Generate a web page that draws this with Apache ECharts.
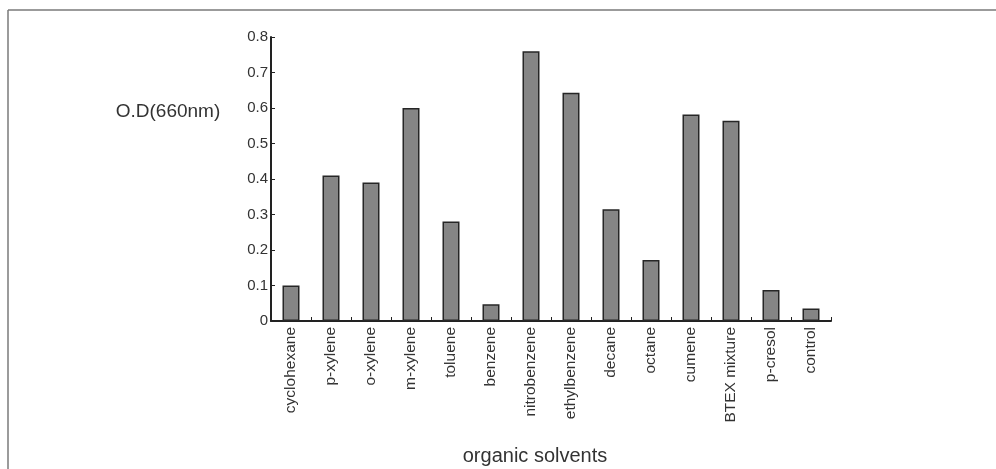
<!DOCTYPE html>
<html>
<head>
<meta charset="utf-8">
<script src="https://cdn.jsdelivr.net/npm/echarts@6/dist/echarts.min.js"></script>
<style>
  html, body { margin: 0; padding: 0; background: #fff; }
  #chart { width: 996px; height: 469px; }
</style>
</head>
<body>
<div id="chart"></div>
<script>
// organic solvents on the x axis
const solvents = ['cyclohexane', 'p-xylene', 'o-xylene', 'm-xylene', 'toluene', 'benzene',
  'nitrobenzene', 'ethylbenzene', 'decane', 'octane', 'cumene', 'BTEX mixture', 'p-cresol', 'control']
// O.D at 660nm
const odValues = [0.10, 0.41, 0.39, 0.60, 0.28, 0.047, 0.76, 0.643, 0.315, 0.172, 0.582, 0.564, 0.087, 0.035]

const chart = echarts.init(document.getElementById('chart'))
const font = 'Arial, "Liberation Sans", sans-serif'

chart.setOption({
  animation: false,
  backgroundColor: '#fff',
  // frame line top and left, plus the two axis titles
  graphic: [
    { type: 'line', shape: { x1: 8, y1: 10, x2: 996, y2: 10 }, style: { stroke: '#7a7a7a', lineWidth: 1.5 } },
    { type: 'line', shape: { x1: 8, y1: 10, x2: 8, y2: 469 }, style: { stroke: '#7a7a7a', lineWidth: 1.5 } },
    { type: 'text', style: { x: 168, y: 112, text: 'O.D(660nm)', font: '19px ' + font, fill: '#333', textAlign: 'center', textVerticalAlign: 'middle' } },
    { type: 'text', style: { x: 535, y: 456, text: 'organic solvents', font: '20px ' + font, fill: '#333', textAlign: 'center', textVerticalAlign: 'middle' } }
  ],
  grid: { left: 271, right: 165, top: 37, bottom: 148 },
  xAxis: {
    type: 'category',
    data: solvents,
    axisLine: { lineStyle: { color: '#222', width: 2 } },
    axisTick: { show: true, inside: true, length: 4, lineStyle: { color: '#222' } },
    axisLabel: { rotate: 90, color: '#333', fontSize: 15.5, fontFamily: font, margin: 6 }
  },
  yAxis: {
    type: 'value',
    min: 0,
    max: 0.8,
    interval: 0.1,
    splitLine: { show: false },
    axisLine: { show: true, lineStyle: { color: '#222', width: 2 } },
    axisTick: { show: true, inside: true, length: 4, lineStyle: { color: '#222' } },
    axisLabel: { color: '#333', fontSize: 15, fontFamily: font, margin: 3 }
  },
  series: [{
    type: 'bar',
    data: odValues,
    barWidth: 17,
    itemStyle: {
      color: '#858585',
      borderColor: '#262626',
      borderWidth: 1.5
    }
  }]
})
</script>
</body>
</html>
